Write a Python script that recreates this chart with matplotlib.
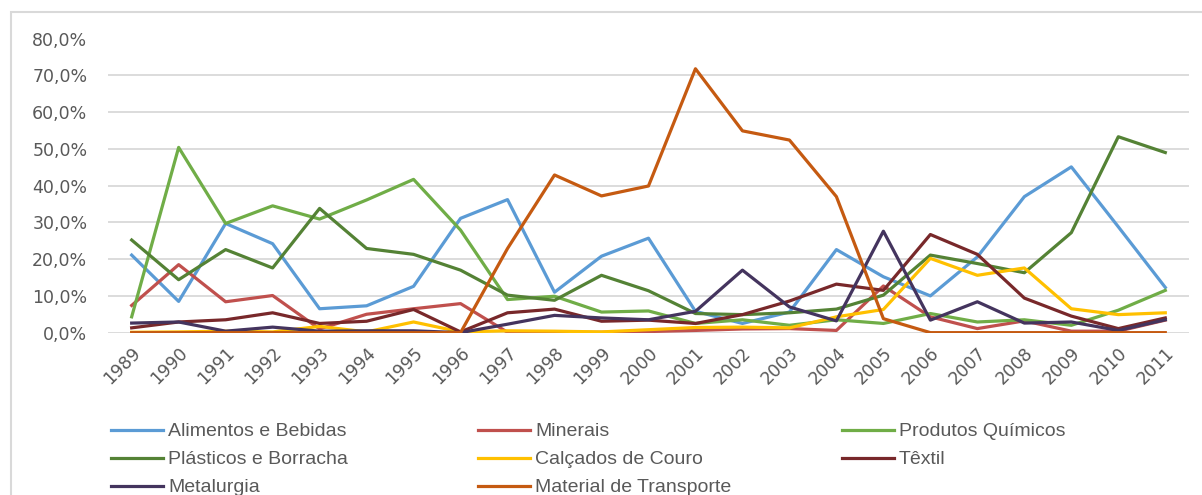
import matplotlib.pyplot as plt
from matplotlib.lines import Line2D
from matplotlib.patches import Rectangle
from matplotlib.ticker import FuncFormatter

years = list(range(1989, 2012))

alimentos = [21.1, 8.5, 29.7, 24.2, 6.5, 7.3, 12.6, 31.1, 36.2, 11.0, 20.8, 25.7,
             5.8, 2.5, 5.6, 22.6, 15.2, 10.0, 20.6, 37.0, 45.1, 28.8, 12.3]
minerais = [7.4, 18.5, 8.4, 10.1, 1.0, 5.0, 6.5, 7.9, 0.1, 0.1, 0.1, 0.3,
            0.6, 1.0, 1.1, 0.6, 12.7, 4.3, 1.1, 3.2, 0.4, 0.4, 3.4]
quimicos = [4.3, 50.4, 29.7, 34.5, 30.9, 36.1, 41.7, 27.9, 9.0, 9.9, 5.6, 5.9,
            2.5, 3.5, 2.0, 3.5, 2.5, 5.2, 2.9, 3.5, 2.0, 6.1, 11.5]
plasticos = [25.2, 14.4, 22.6, 17.6, 33.8, 22.9, 21.3, 17.0, 10.2, 8.8, 15.6, 11.4,
             5.2, 4.9, 5.4, 6.4, 10.2, 21.1, 18.8, 16.3, 27.2, 53.3, 49.0]
calcados = [0.1, 0.2, 0.4, 0.2, 1.7, 0.2, 2.9, 0.2, 0.5, 0.4, 0.2, 0.8,
            1.4, 1.5, 1.3, 4.3, 6.3, 20.2, 15.6, 17.6, 6.5, 4.9, 5.4]
textil = [1.3, 2.9, 3.5, 5.4, 2.5, 3.1, 6.3, 0.2, 5.4, 6.4, 3.1, 3.4,
          2.5, 4.9, 8.6, 13.2, 11.5, 26.7, 21.3, 9.4, 4.5, 1.1, 4.0]
metalurgia = [2.6, 2.9, 0.4, 1.5, 0.4, 0.5, 0.5, 0.0, 2.3, 4.7, 4.0, 3.5,
              5.8, 17.0, 7.0, 3.2, 27.6, 3.4, 8.4, 2.6, 2.9, 0.6, 3.5]
transporte = [0, 0, 0, 0, 0, 0, 0, 0, 22.9, 42.9, 37.2, 39.9,
              71.8, 54.9, 52.4, 37.0, 3.8, 0, 0, 0, 0, 0, 0]

series = [
    ("Alimentos e Bebidas", alimentos, "#5B9BD5"),
    ("Minerais", minerais, "#C0504D"),
    ("Produtos Químicos", quimicos, "#70AD47"),
    ("Plásticos e Borracha", plasticos, "#548235"),
    ("Calçados de Couro", calcados, "#FFC000"),
    ("Têxtil", textil, "#78282A"),
    ("Metalurgia", metalurgia, "#44345E"),
    ("Material de Transporte", transporte, "#C55A11"),
]

W, H = 1202, 495
fig = plt.figure(figsize=(W / 100, H / 100), dpi=100)
ax = fig.add_axes([0.09, 0.328, 0.899, 0.594])

x = list(range(len(years)))
for name, vals, color in series:
    ax.plot(x, vals, color=color, lw=2.3, label=name)

ax.set_xlim(-0.5, len(years) - 0.5)
ax.set_ylim(0, 80)
ax.set_yticks(range(0, 81, 10))
ax.yaxis.set_major_formatter(FuncFormatter(lambda v, p: f"{v:.1f}%".replace(".", ",")))
ax.set_xticks(x)
ax.set_xticklabels([str(y) for y in years], rotation=45, ha="right", rotation_mode="anchor")
ax.tick_params(axis="both", length=0, colors="#595959", labelsize=12.5)
ax.tick_params(axis="y", pad=15)
ax.tick_params(axis="x", pad=8)
ax.grid(axis="y", color="#D9D9D9", lw=1.3)
ax.get_ygridlines()[-1].set_visible(False)
ax.set_axisbelow(True)
for s in ax.spines.values():
    s.set_visible(False)

# outer chart frame (open at right/bottom, as in the crop)
fig.patches.append(Rectangle((11 / W, -0.1), 1.2, 1.1 - 12 / H,
                             transform=fig.transFigure, fill=False,
                             edgecolor="#D9D9D9", lw=1.5))

# legend, filled row by row in three columns
col_x = [111, 478, 842]
row_y = [430, 458, 486]
for i, (name, vals, color) in enumerate(series):
    cx = col_x[i % 3]
    cy = H - row_y[i // 3]
    fig.add_artist(Line2D([cx / W, (cx + 52) / W], [cy / H, cy / H],
                          color=color, lw=2.3, transform=fig.transFigure))
    fig.text((cx + 57) / W, cy / H, name, ha="left", va="center_baseline",
             fontsize=14, color="#595959",
             family=["Liberation Sans Narrow", "Liberation Sans", "DejaVu Sans"])

fig.savefig("out.png", dpi=100)
